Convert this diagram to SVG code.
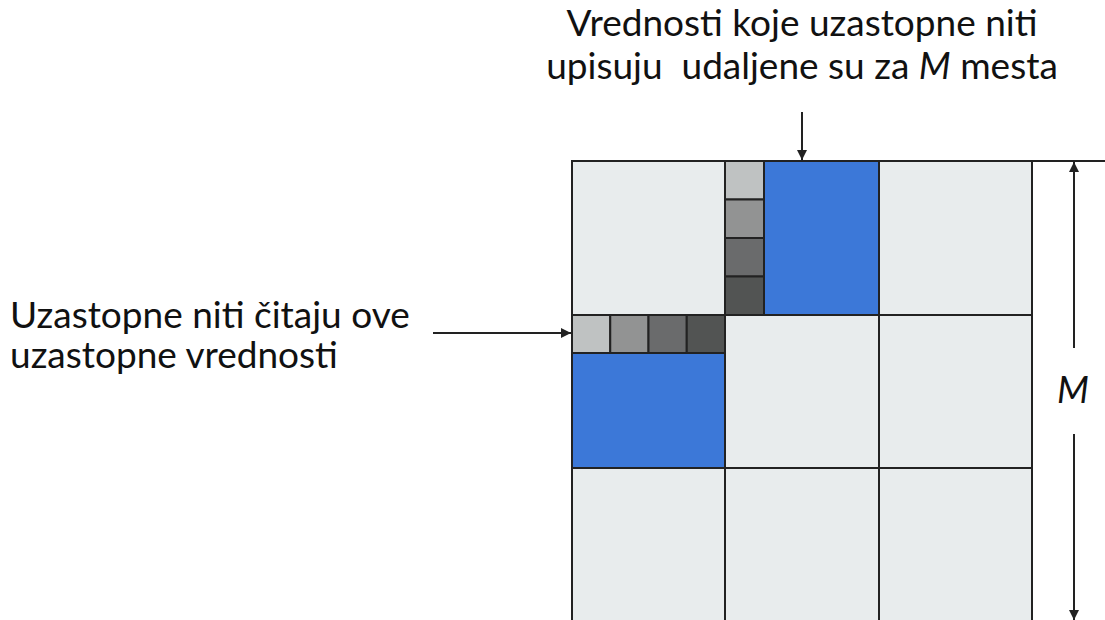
<svg xmlns="http://www.w3.org/2000/svg" width="1105" height="620" viewBox="0 0 1105 620">
  <style>
    .cell { fill: #E8ECED; stroke: #222; stroke-width: 2; }
    .blue { fill: #3C78D8; stroke: #222; stroke-width: 2; }
    .g1 { fill: #BFC2C2; stroke: #222; stroke-width: 2; }
    .g2 { fill: #929393; stroke: #222; stroke-width: 2; }
    .g3 { fill: #6A6B6C; stroke: #222; stroke-width: 2; }
    .g4 { fill: #525453; stroke: #222; stroke-width: 2; }
    .line { stroke: #222; stroke-width: 2; fill: none; }
    .lbl { font-family: Lato, "Liberation Sans", sans-serif; font-size: 37px; fill: #111; }
  </style>
  <defs>
    <marker id="arr" viewBox="0 0 10 10" refX="10" refY="5" markerWidth="10" markerHeight="10" markerUnits="userSpaceOnUse" orient="auto">
      <path d="M0,0 L10,5 L0,10 z" fill="#222"/>
    </marker>
  </defs>

  <!-- matrix grid -->
  <g id="grid">
    <rect class="cell" x="572" y="161" width="153" height="154"/>
    <rect class="cell" x="725" y="161" width="154" height="154"/>
    <rect class="cell" x="879" y="161" width="153" height="154"/>
    <rect class="cell" x="572" y="315" width="153" height="153"/>
    <rect class="cell" x="725" y="315" width="154" height="153"/>
    <rect class="cell" x="879" y="315" width="153" height="153"/>
    <rect class="cell" x="572" y="468" width="153" height="160"/>
    <rect class="cell" x="725" y="468" width="154" height="160"/>
    <rect class="cell" x="879" y="468" width="153" height="160"/>
    <line class="line" x1="1032" y1="161" x2="1105" y2="161"/>
  </g>

  <!-- column of written values -->
  <g id="write-block">
    <rect class="blue" x="764" y="161" width="115" height="154"/>
    <rect class="g1" x="725" y="161" width="39" height="38.5"/>
    <rect class="g2" x="725" y="199.5" width="39" height="38.5"/>
    <rect class="g3" x="725" y="238" width="39" height="38.5"/>
    <rect class="g4" x="725" y="276.5" width="39" height="38.5"/>
  </g>

  <!-- row of read values -->
  <g id="read-block">
    <rect class="blue" x="572" y="353" width="153" height="115"/>
    <rect class="g1" x="572" y="315" width="38.25" height="38"/>
    <rect class="g2" x="610.25" y="315" width="38.25" height="38"/>
    <rect class="g3" x="648.5" y="315" width="38.25" height="38"/>
    <rect class="g4" x="686.75" y="315" width="38.25" height="38"/>
  </g>

  <!-- labels -->
  <g id="label-write">
    <text class="lbl" x="802" y="36" text-anchor="middle">Vrednosti koje uzastopne niti</text>
    <text class="lbl" x="802" y="79" text-anchor="middle" xml:space="preserve">upisuju  udaljene su za <tspan font-style="italic">M</tspan> mesta</text>
  </g>
  <g id="label-read">
    <text class="lbl" x="10" y="328">Uzastopne niti čitaju ove</text>
    <text class="lbl" x="10" y="368">uzastopne vrednosti</text>
  </g>
  <g id="label-m">
    <text class="lbl" x="1073" y="403" text-anchor="middle" font-style="italic">M</text>
  </g>

  <!-- connectors -->
  <g id="connectors">
    <line class="line" x1="802" y1="112" x2="802" y2="160" marker-end="url(#arr)"/>
    <line class="line" x1="433" y1="333" x2="571" y2="333" marker-end="url(#arr)"/>
    <line class="line" x1="1074" y1="348" x2="1074" y2="162" marker-end="url(#arr)"/>
    <line class="line" x1="1074" y1="434" x2="1074" y2="620" marker-end="url(#arr)"/>
  </g>
</svg>
